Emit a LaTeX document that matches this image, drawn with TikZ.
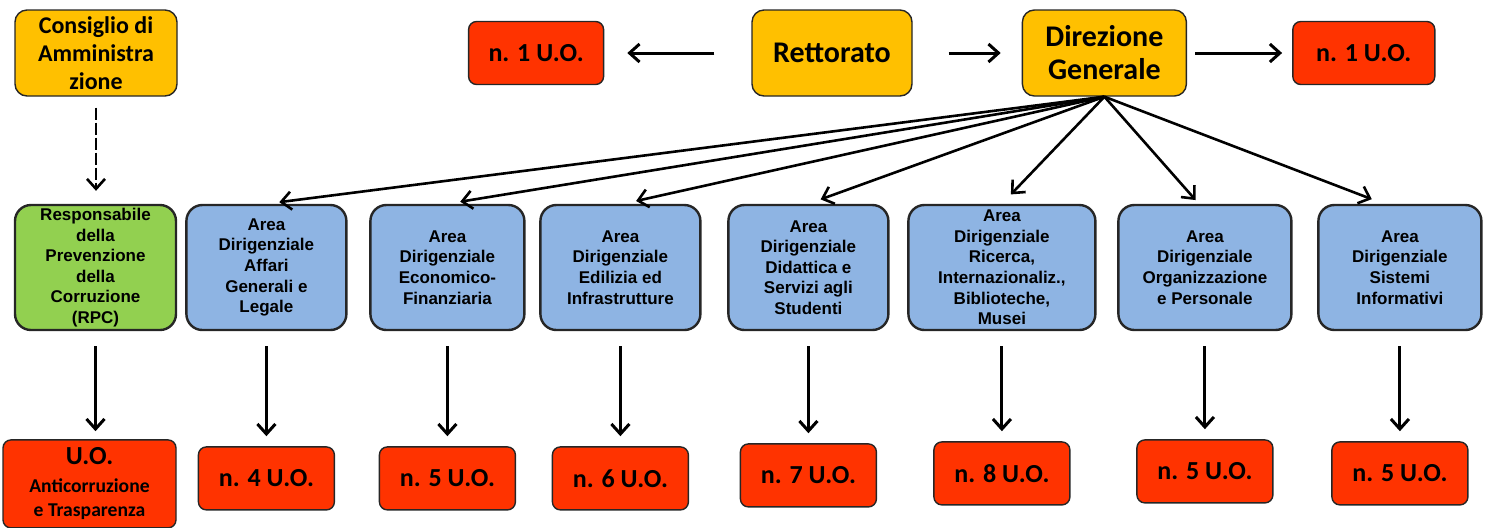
\documentclass[tikz,border=0pt]{standalone}
\usepackage{fontspec}
\setmainfont{Carlito}
\newfontfamily\arialfont{Liberation Sans}
\usepackage{xcolor}
\usetikzlibrary{positioning}
\usetikzlibrary{arrows.meta}
\definecolor{arancio}{HTML}{FFC000}
\definecolor{rosso}{HTML}{FF3300}
\definecolor{azzurro}{HTML}{8EB4E3}
\definecolor{verde}{HTML}{92D050}
\newcommand{\piccolo}{\fontsize{9.8}{11.7}\selectfont}

\begin{document}
\begin{tikzpicture}[x=0.5pt,y=0.5pt,
  organo/.style={rectangle,rounded corners=6pt,draw=black!85,line width=0.7pt,fill=arancio,align=center,inner sep=1pt,minimum height=43pt,font=\bfseries\fontsize{12}{14}\selectfont},
  uo/.style={rectangle,rounded corners=4pt,draw=black!85,line width=0.7pt,fill=rosso,minimum width=68pt,minimum height=31.5pt,font=\bfseries\fontsize{13}{15}\selectfont},
  area/.style={rectangle,rounded corners=8pt,draw=black!85,line width=1.2pt,fill=azzurro,minimum width=80pt,minimum height=62.5pt,align=center,inner sep=1pt,font=\arialfont\bfseries\fontsize{8.5}{10.3}\selectfont},
  freccia/.style={->,line width=1.5pt},
  >={Straight Barb[length=5pt,width=9pt]}]

\useasboundingbox (0,0) rectangle (1494,-527);

\node[organo,minimum width=81pt] (cda) at (96,-53) {Consiglio di\\Amministra\\zione};
\node[organo,minimum width=80pt,font=\bfseries\fontsize{15}{17}\selectfont] (rett) at (832,-53) {Rettorato};
\node[organo,minimum width=82pt,font=\bfseries\fontsize{15}{16.5}\selectfont,right=54.5pt of rett] (dg) {Direzione\\Generale};
\node[uo,minimum width=67.5pt,left=73.5pt of rett] (uoA) {n. 1 U.O.};
\node[uo,minimum width=71pt,right=52.5pt of dg] (uoB) {n. 1 U.O.};

\node[area,fill=verde,minimum width=80.5pt] (rpc) at (95.5,-267.5) {Responsabile\\della\\Prevenzione\\della\\Corruzione\\(RPC)};
\node[area,right=4pt of rpc] (a1) {Area\\Dirigenziale\\Affari\\Generali e\\Legale};
\node[area,minimum width=77pt,right=10.8pt of a1] (a2) {Area\\Dirigenziale\\Economico-\\Finanziaria};
\node[area,right=6.8pt of a2] (a3) {Area\\Dirigenziale\\Edilizia ed\\Infrastrutture};
\node[area,right=12.8pt of a3] (a4) {Area\\Dirigenziale\\Didattica e\\Servizi agli\\Studenti};
\node[area,minimum width=93.5pt,right=8.8pt of a4] (a5) {Area\\Dirigenziale\\Ricerca,\\Internazionaliz.,\\Biblioteche,\\Musei};
\node[area,minimum width=86.5pt,right=10.3pt of a5] (a6) {Area\\Dirigenziale\\Organizzazione\\e Personale};
\node[area,minimum width=81.5pt,right=12.3pt of a6] (a7) {Area\\Dirigenziale\\Sistemi\\Informativi};

\node[uo,minimum width=86.5pt,minimum height=44pt,align=center,inner sep=1pt,below=54pt of rpc,xshift=-3pt] (uoRPC) {U.O.\\[-1pt]\piccolo Anticorruzione\\[-3pt]\piccolo e Trasparenza};
\node[uo,below=57.5pt of a1] (u1) {n. 4 U.O.};
\node[uo,below=57.5pt of a2] (u2) {n. 5 U.O.};
\node[uo,below=57.5pt of a3] (u3) {n. 6 U.O.};
\node[uo,below=56pt of a4] (u4) {n. 7 U.O.};
\node[uo,below=55pt of a5] (u5) {n. 8 U.O.};
\node[uo,below=54pt of a6] (u6) {n. 5 U.O.};
\node[uo,below=55pt of a7] (u7) {n. 5 U.O.};

\draw[freccia,shorten <=18.5pt,shorten >=11.5pt] (rett) -- (uoA);
\draw[freccia,shorten <=18pt,shorten >=10.5pt] (rett) -- (dg);
\draw[freccia,shorten <=4pt,shorten >=5pt] (dg) -- (uoB);

\draw[freccia,line width=1.3pt,dash pattern=on 6pt off 1.5pt,shorten <=5.5pt,shorten >=6.5pt] (cda.south) -- (cda.south |- rpc.north);

\draw[freccia,line width=1.3pt,shorten >=6.5pt] (dg.south) -- (a1.north);
\draw[freccia,line width=1.3pt,shorten >=6.5pt] (dg.south) -- (a2.north);
\draw[freccia,line width=1.3pt,shorten >=6.5pt] (dg.south) -- ([xshift=1.5pt]a3.north);
\draw[freccia,line width=1.3pt,shorten >=6.5pt] (dg.south) -- (a4.north);
\draw[freccia,line width=1.3pt,shorten >=6.5pt] (dg.south) -- (a5.north);
\draw[freccia,line width=1.3pt,shorten >=2.5pt] (dg.south) -- ([xshift=-3pt]a6.north);
\draw[freccia,line width=1.3pt,shorten >=6.5pt] (dg.south) -- ([xshift=-8pt]a7.north);

\draw[freccia,shorten <=7.5pt,shorten >=4pt] (rpc.south) -- (rpc.south |- uoRPC.north);
\draw[freccia,shorten <=7.5pt,shorten >=5pt] (a1) -- (u1);
\draw[freccia,shorten <=7.5pt,shorten >=5pt] (a2) -- (u2);
\draw[freccia,shorten <=7.5pt,shorten >=5pt] (a3) -- (u3);
\draw[freccia,shorten <=7.5pt,shorten >=5pt] (a4) -- (u4);
\draw[freccia,shorten <=7.5pt,shorten >=5pt] (a5) -- (u5);
\draw[freccia,shorten <=7.5pt,shorten >=5pt] (a6) -- (u6);
\draw[freccia,shorten <=7.5pt,shorten >=5pt] (a7) -- (u7);
\end{tikzpicture}
\end{document}
